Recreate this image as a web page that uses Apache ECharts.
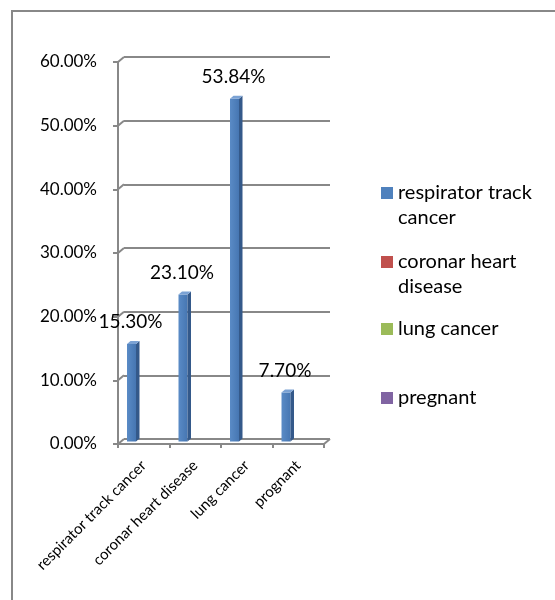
<!DOCTYPE html>
<html>
<head>
<meta charset="utf-8">
<script src="https://cdn.jsdelivr.net/npm/echarts@6/dist/echarts.min.js"></script>
<style>
  html, body { margin: 0; padding: 0; background: #fff; }
  #chart { width: 555px; height: 600px; }
</style>
</head>
<body>
<div id="chart"></div>
<script>
// Share of cases per condition (percent)
const categories = ['respirator track cancer', 'coronar heart disease', 'lung cancer', 'prognant'];
const values = [15.30, 23.10, 53.84, 7.70];
const legendNames = ['respirator track cancer', 'coronar heart disease', 'lung cancer', 'pregnant'];
const legendLabels = ['respirator track\ncancer', 'coronar heart\ndisease', 'lung cancer', 'pregnant'];
const legendColors = ['#4F81BD', '#C0504D', '#9BBB59', '#8064A2'];
const yTicks = [0, 10, 20, 30, 40, 50, 60];

const FONT = 'Lato, "Liberation Sans", sans-serif';
const LINE = '#888888';
const DEPTH_X = 6, DEPTH_Y = 5;   // offset between the front axes and the back wall
const pct = v => v.toFixed(2) + '%';

const chart = echarts.init(document.getElementById('chart'), null, { renderer: 'canvas' });

// Three grids at different depths: back wall (gridlines), bar plane, front axes
const gridBox = { width: 206, height: 382, containLabel: false, outerBoundsMode: 'none' };
const grids = [
  Object.assign({ left: 124, top: 57 }, gridBox),
  Object.assign({ left: 105.75, top: 59.5 }, gridBox),
  Object.assign({ left: 118, top: 62 }, gridBox)
];

const yBase = { type: 'value', min: yTicks[0], max: yTicks[yTicks.length - 1], interval: 10 };

// 3D-looking column with its value label above
function renderBar(params, api) {
  const v = api.value(1);
  const top = api.coord([api.value(0), v]);
  const base = api.coord([api.value(0), 0]);
  const c = top[0], w = 9, d = 3.5, h = 3;
  const x0 = c - w / 2, x1 = c + w / 2;
  return {
    type: 'group',
    children: [
      {
        type: 'rect',
        shape: { x: x0, y: top[1], width: w, height: base[1] - top[1] },
        style: {
          fill: new echarts.graphic.LinearGradient(0, 0, 1, 0, [
            { offset: 0, color: '#5A8BC6' },
            { offset: 1, color: '#4676B2' }
          ])
        }
      },
      {
        type: 'polygon',
        shape: { points: [[x1, top[1]], [x1 + d, top[1] - h], [x1 + d, base[1] - h], [x1, base[1]]] },
        style: { fill: '#34598A' }
      },
      {
        type: 'polygon',
        shape: { points: [[x0, top[1]], [x1, top[1]], [x1 + d, top[1] - h], [x0 + d, top[1] - h]] },
        style: { fill: '#7BA2D4' }
      },
      {
        type: 'text',
        style: {
          text: pct(v), x: c - 1, y: top[1] - 22,
          align: 'center', verticalAlign: 'middle',
          font: '19px ' + FONT, fill: '#000'
        }
      }
    ]
  };
}

// Short slanted edges joining the front axis ticks to the back-wall gridlines
function renderEdges(params, api) {
  const cs = params.coordSys;
  const p = api.coord([0, api.value(1)]);
  const children = [{
    type: 'line',
    shape: { x1: cs.x, y1: p[1], x2: cs.x - DEPTH_X, y2: p[1] + DEPTH_Y },
    style: { stroke: LINE, lineWidth: 2 }
  }];
  if (api.value(1) === 0) {
    children.push({
      type: 'line',
      shape: { x1: cs.x + cs.width, y1: p[1], x2: cs.x + cs.width - DEPTH_X, y2: p[1] + DEPTH_Y },
      style: { stroke: LINE, lineWidth: 2 }
    });
  }
  return { type: 'group', children };
}

// Two-line entries get an empty leading line so the swatch sits beside the first line
const legendTops = [155.5, 224.5, 316.5, 385.5];
const legends = legendNames.map((name, i) => ({
  left: 381,
  top: legendTops[i],
  orient: 'vertical',
  padding: 0,
  itemWidth: 12,
  itemHeight: 12,
  itemGap: 0,
  selectedMode: false,
  data: [{ name, icon: 'rect', itemStyle: { color: legendColors[i] } }],
  formatter: () => (legendLabels[i].includes('\n') ? ' \n' : '') + legendLabels[i],
  textStyle: { fontFamily: FONT, fontSize: 20, color: '#000', lineHeight: 25 }
}));

const option = {
  backgroundColor: '#fff',
  animation: false,
  grid: grids,
  legend: legends,
  xAxis: [
    { type: 'category', gridIndex: 0, data: categories, show: false },
    { type: 'category', gridIndex: 1, data: categories, show: false },
    {
      type: 'category', gridIndex: 2, data: categories,
      axisLine: { show: true, lineStyle: { color: LINE, width: 2 } },
      axisTick: { show: true, length: 4, lineStyle: { color: LINE, width: 2 } },
      axisLabel: {
        rotate: 45, margin: 19, interval: 0,
        fontFamily: FONT, fontSize: 15, color: '#000'
      },
      splitLine: { show: false }
    }
  ],
  yAxis: [
    Object.assign({}, yBase, {
      gridIndex: 0,
      axisLine: { show: false }, axisTick: { show: false }, axisLabel: { show: false },
      splitLine: { show: true, lineStyle: { color: LINE, width: 2 } }
    }),
    Object.assign({}, yBase, { gridIndex: 1, show: false }),
    Object.assign({}, yBase, {
      gridIndex: 2,
      axisLine: { show: true, lineStyle: { color: LINE, width: 2 } },
      axisTick: { show: true, length: 5, lineStyle: { color: LINE, width: 2 } },
      axisLabel: {
        margin: 21, formatter: v => pct(v),
        fontFamily: FONT, fontSize: 17, color: '#000'
      },
      splitLine: { show: false }
    })
  ],
  series: [
    {
      type: 'custom', name: legendNames[0], xAxisIndex: 0, yAxisIndex: 0,
      data: yTicks.map(v => [0, v]), renderItem: renderEdges, silent: true, z: 1
    },
    {
      type: 'custom', name: legendNames[0], xAxisIndex: 1, yAxisIndex: 1,
      itemStyle: { color: legendColors[0] },
      data: values.map((v, i) => [i, v]), renderItem: renderBar, z: 3
    }
  ].concat(legendNames.slice(1).map((name, k) => ({
    type: 'custom', name, xAxisIndex: 1, yAxisIndex: 1,
    itemStyle: { color: legendColors[k + 1] },
    data: [], renderItem: renderBar
  }))),
  graphic: [{
    type: 'rect', silent: true, z: -1,
    shape: { x: 12, y: 11, width: 700, height: 700 },
    style: { fill: 'none', stroke: LINE, lineWidth: 2 }
  }]
};

chart.setOption(option);
</script>
</body>
</html>
